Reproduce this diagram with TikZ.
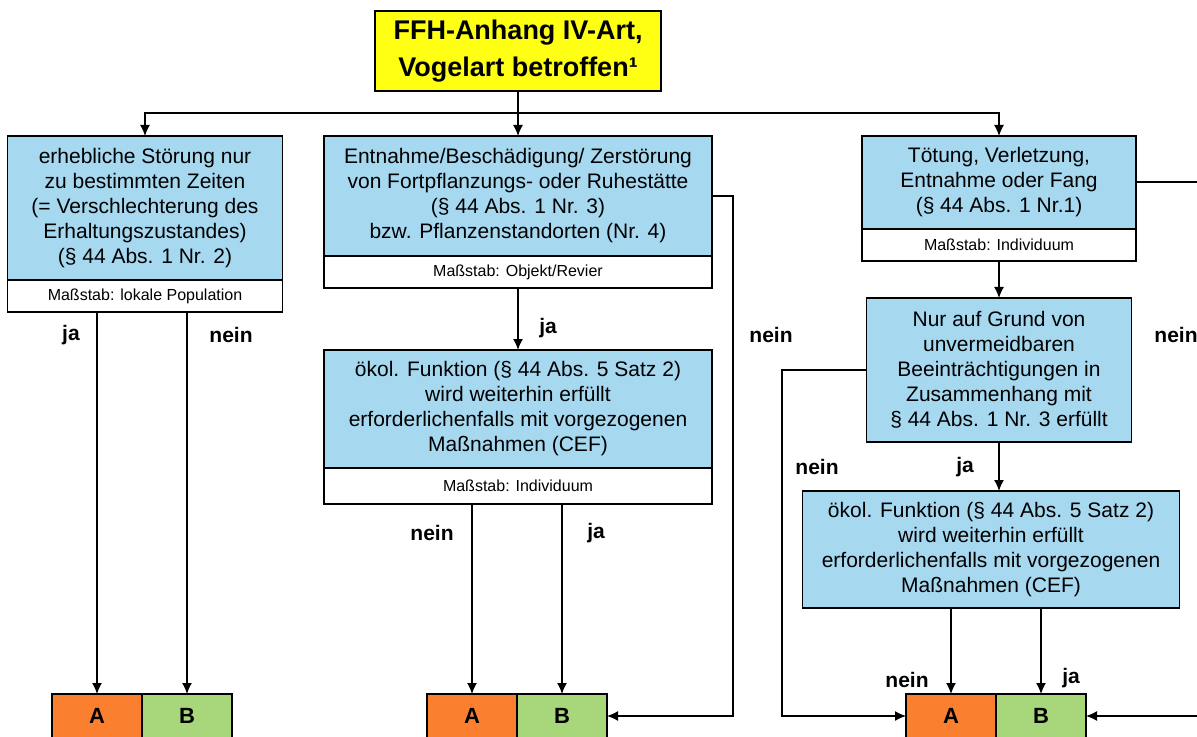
\documentclass[tikz,border=0pt]{standalone}
\usepackage{fontspec}
\setmainfont{Liberation Sans}
\usetikzlibrary{positioning,arrows.meta}
\definecolor{caseblue}{RGB}{166,216,240}
\definecolor{titleyellow}{RGB}{255,255,20}
\definecolor{resultorange}{RGB}{250,128,48}
\definecolor{resultgreen}{RGB}{168,214,122}
\tikzset{%
	title/.style={
		draw,
		fill=titleyellow,
		line width=0.8pt,
		align=center,
		inner sep=0pt,
		outer sep=0pt,
		font=\bfseries\fontsize{13.5}{18.5}\selectfont
	},
	case/.style={
		draw,
		fill=caseblue,
		line width=0.7pt,
		align=center,
		anchor=north,
		inner sep=0pt,
		outer sep=0pt,
		font=\fontsize{10.5}{12.5}\selectfont
	},
	massstab/.style={
		draw,
		fill=white,
		line width=0.7pt,
		inner sep=0pt,
		outer sep=0pt,
		minimum height=16pt,
		font=\fontsize{8}{9}\selectfont
	},
	result/.style={
		draw,
		line width=0.7pt,
		anchor=north,
		inner sep=0pt,
		outer sep=0pt,
		minimum width=45pt,
		minimum height=22pt,
		font=\bfseries\fontsize{11}{12}\selectfont
	},
	result-A/.style={ fill=resultorange },
	result-B/.style={ fill=resultgreen },
	answer/.style={ font=\bfseries\fontsize{10.5}{12}\selectfont },
}

\begin{document}
\begin{tikzpicture}[x=0.5pt, y=-0.5pt, >={Latex[length=5.5pt,width=5pt]}, line width=0.7pt]
\useasboundingbox (0,0) rectangle (1197,737);
\clip (0,0) rectangle (1197,737);

% boxes
\node[title, minimum width=143pt, minimum height=40pt] (ffh) at (518,51)
	{FFH-Anhang IV-Art,\\ Vogelart betroffen¹};
\node[case, minimum width=137.5pt, minimum height=72pt] (stoer) at (145,136)
	{erhebliche Störung nur\\ zu bestimmten Zeiten\\ (= Verschlechterung des\\ Erhaltungszustandes)\\ (§ 44 Abs. 1 Nr. 2)};
\node[massstab, minimum width=137.5pt, below=0pt of stoer] (stoer-m) {Maßstab: lokale Population};
\node[case, minimum width=194pt, minimum height=60pt] (entnahme) at (518,136)
	{Entnahme/Beschädigung/ Zerstörung\\ von Fortpflanzungs- oder Ruhestätte\\ (§ 44 Abs. 1 Nr. 3)\\ bzw. Pflanzenstandorten (Nr. 4)};
\node[massstab, minimum width=194pt, below=0pt of entnahme] (entnahme-m) {Maßstab: Objekt/Revier};
\node[case, minimum width=137pt, minimum height=46.5pt] (toetung) at (999,136)
	{Tötung, Verletzung,\\ Entnahme oder Fang\\ (§ 44 Abs. 1 Nr.1)};
\node[massstab, minimum width=137pt, below=0pt of toetung] (toetung-m) {Maßstab: Individuum};
\node[case, minimum width=194pt, minimum height=59pt] (oekol-m) at (518,350)
	{ökol. Funktion (§ 44 Abs. 5 Satz 2)\\ wird weiterhin erfüllt\\ erforderlichenfalls mit vorgezogenen\\ Maßnahmen (CEF)};
\node[massstab, minimum width=194pt, minimum height=18pt, below=0pt of oekol-m] (oekol-m-m) {Maßstab: Individuum};
\node[case, minimum width=132.5pt, minimum height=72pt] (grund) at (999,298)
	{Nur auf Grund von\\ unvermeidbaren\\ Beeinträchtigungen in\\ Zusammenhang mit\\ § 44 Abs. 1 Nr. 3 erfüllt};
\node[case, minimum width=188.5pt, minimum height=58.5pt] (oekol-r) at (991,491)
	{ökol. Funktion (§ 44 Abs. 5 Satz 2)\\ wird weiterhin erfüllt\\ erforderlichenfalls mit vorgezogenen\\ Maßnahmen (CEF)};

% results
\foreach \n/\x in {1/97,2/472,3/951}
	\node[result, result-A] (A\n) at (\x,694) {A};
\foreach \n in {1,2,3}
	\node[result, result-B, right=0pt of A\n] (B\n) {B};

% connections
\coordinate (split) at (518,113);
\draw (ffh) -- (split);
\draw[->] (split) -| (stoer.north);
\draw[->] (ffh) -- (entnahme);
\draw[->] (split) -| (toetung.north);

\foreach \n in {A1,B1}
	\draw[->] (stoer-m.south -| \n) -- (\n);
\foreach \n in {A2,B2}
	\draw[->] (oekol-m-m.south -| \n) -- (\n);
\foreach \n in {A3,B3}
	\draw[->] (oekol-r.south -| \n) -- (\n);

\draw[->] (entnahme-m) -- (oekol-m);
\draw[->] (toetung-m) -- (grund);
\draw[->] (grund.south) -- (grund.south |- oekol-r.north);

\coordinate (turn-m) at (733,196);
\draw[->] (entnahme.east) -- (turn-m) |- (B2.east);
\coordinate (turn-r) at (1220,182);
\draw[->] (toetung.east |- turn-r) -- (turn-r) |- (B3.east);
\coordinate (turn-g) at (782,370);
\draw[->] (grund.west) -- (turn-g) |- (A3.west);

% answers
\foreach \l/\x/\y [count=\i] in {ja/71/335, nein/231/335, ja/548/328, nein/771/335, nein/432/533, ja/596/533, nein/1176/335, nein/817/467, ja/965/467, nein/907/680, ja/1071/678}
	\node[answer] (answer-\i) at (\x,\y) {\l};

\end{tikzpicture}
\end{document}
